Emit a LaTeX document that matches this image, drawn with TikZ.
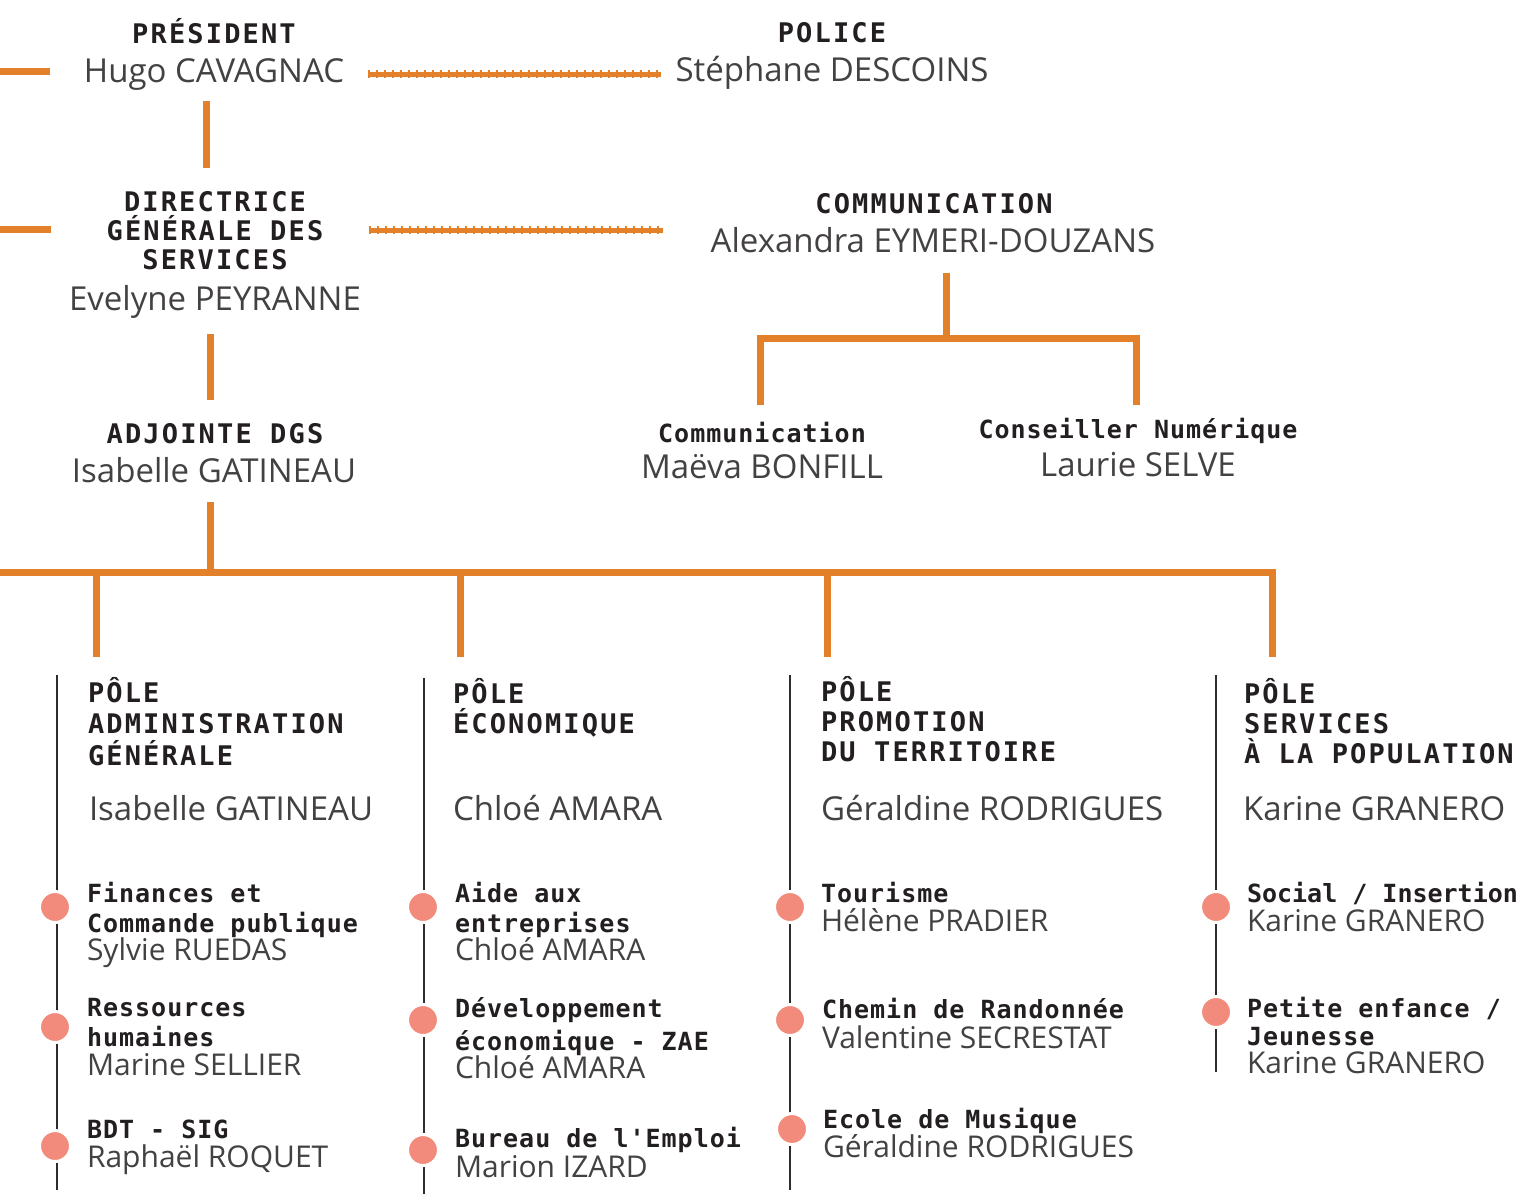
\documentclass[tikz,border=0pt]{standalone}
\usepackage{fontspec}
\setmainfont{Open Sans}
\newfontfamily\headfont[LetterSpace=8]{DejaVu Sans Mono}
\newfontfamily\subfont[LetterSpace=4]{DejaVu Sans Mono}
\newfontfamily\subtightfont[LetterSpace=0]{DejaVu Sans Mono}
\usetikzlibrary{calc}

\definecolor{barColor}{RGB}{227,129,43}
\definecolor{dotColor}{RGB}{242,139,123}
\definecolor{textColor}{RGB}{35,31,32}
\definecolor{ruleColor}{RGB}{45,45,45}

\tikzset{
  headtext/.style={text=textColor,inner sep=0pt,outer sep=0pt,font=\headfont\bfseries\fontsize{27}{30}\selectfont},
  person/.style={text=textColor!85,inner sep=0pt,outer sep=0pt,font=\fontsize{33}{34}\selectfont},
  subhead/.style={text=textColor,inner sep=0pt,outer sep=0pt,align=left,font=\subfont\bfseries\fontsize{25}{30}\selectfont},
  subperson/.style={text=textColor!85,inner sep=0pt,outer sep=0pt,font=\fontsize{30}{30}\selectfont},
  bar/.style={draw=barColor,line width=7pt},
  dotlink/.style={draw=barColor,line width=5pt,postaction={draw=barColor,line width=8.5pt,dash pattern=on 1.5pt off 6.5pt}},
  rule/.style={draw=ruleColor,line width=2.5pt},
  bullet/.style={circle,fill=dotColor,draw=white,line width=3pt,minimum size=31pt,inner sep=0pt}
}

\begin{document}
\begin{tikzpicture}[x=1pt,y=-1pt]
\path[use as bounding box,fill=white] (0,0) rectangle (1525,1194);

% top of the chart
\node[headtext,anchor=base] (pres) at (214,43) {PRÉSIDENT};
\node[person,anchor=base] (presN) at (214,82) {Hugo CAVAGNAC};
\node[headtext,anchor=base] (police) at (832,42) {POLICE};
\node[person,anchor=base] (policeN) at (832,81) {Stéphane DESCOINS};

\node[headtext,anchor=base,align=center,font=\headfont\bfseries\fontsize{27}{29}\selectfont] (dgs) at (215,269) {DIRECTRICE\\GÉNÉRALE DES\\SERVICES};
\node[person,anchor=base] (dgsN) at (215,310) {Evelyne PEYRANNE};
\node[headtext,anchor=base] (comm) at (934,213) {COMMUNICATION};
\node[person,anchor=base] (commN) at (933,252) {Alexandra EYMERI-DOUZANS};

\node[subhead,anchor=base] (com1) at (762,442) {Communication};
\node[person,anchor=base] (com1N) at (762,478) {Maëva BONFILL};
\node[subhead,anchor=base] (com2) at (1138,438) {Conseiller Numérique};
\node[person,anchor=base] (com2N) at (1138,476) {Laurie SELVE};

\node[headtext,anchor=base] (adj) at (215,443) {ADJOINTE DGS};
\node[person,anchor=base] (adjN) at (214,482) {Isabelle GATINEAU};

% links at the top
\coordinate (edge1) at (0,71);
\coordinate (edge2) at (0,229);
\draw[bar] (edge1) -- ++(50,0);
\draw[bar] (edge2) -- ++(51,0);
\draw[dotlink,shorten <=24pt,shorten >=15pt] (presN.east) -- (presN.east -| policeN.west);
\draw[dotlink,shorten <=46pt,shorten >=48pt] (dgs.east) -- (dgs.east -| commN.west);

\coordinate (presS) at (206,101);
\coordinate (dgsT) at (206,168);
\draw[bar] (presS) -- (dgsT);
\coordinate (dgsS) at (210,334);
\coordinate (adjT) at (210,400);
\draw[bar] (dgsS) -- (adjT);

\coordinate (commS) at (946,273);
\coordinate (commBar) at (946,338);
\coordinate (com1T) at (760,405);
\coordinate (com2T) at (1136,405);
\draw[bar] (commS) -- (commBar);
\draw[bar] (com1T) |- (commBar) -| (com2T);

% the four poles
\coordinate (adjS) at (210,502);
\coordinate (busW) at (0,572);
\coordinate (top1) at (96,657);
\coordinate (top2) at (460,657);
\coordinate (top3) at (827,657);
\coordinate (top4) at (1272,657);
\draw[bar] (adjS) -- (adjS |- busW);
\draw[bar] (busW) -| (top4);
\draw[bar] (top1 |- busW) -- (top1);
\draw[bar] (top2 |- busW) -- (top2);
\draw[bar] (top3 |- busW) -- (top3);

\draw[rule] (57,675) -- (57,1190);
\draw[rule] (424,678) -- (424,1194);
\draw[rule] (790,675) -- (790,1190);
\draw[rule] (1216,675) -- (1216,1072);

\node[headtext,anchor=base west,align=left,font=\headfont\bfseries\fontsize{27}{31.5}\selectfont] (pole1) at (88,765) {PÔLE\\ADMINISTRATION\\GÉNÉRALE};
\node[person,anchor=base west] (pole1N) at (89,820) {Isabelle GATINEAU};
\node[headtext,anchor=base west,align=left] (pole2) at (453,733) {PÔLE\\ÉCONOMIQUE};
\node[person,anchor=base west] (pole2N) at (453,820) {Chloé AMARA};
\node[headtext,anchor=base west,align=left] (pole3) at (821,761) {PÔLE\\PROMOTION\\DU TERRITOIRE};
\node[person,anchor=base west] (pole3N) at (821,820) {Géraldine RODRIGUES};
\node[headtext,anchor=base west,align=left] (pole4) at (1244,763) {PÔLE\\SERVICES\\À LA POPULATION};
\node[person,anchor=base west] (pole4N) at (1243,820) {Karine GRANERO};

% services of each pole
\node[bullet] (b11) at (55,907) {};
\node[subhead,anchor=base west] (s11) at (87,932) {Finances et\\Commande publique};
\node[subperson,anchor=base west] (s11N) at (87,960) {Sylvie RUEDAS};
\node[bullet] (b12) at (55,1027) {};
\node[subhead,anchor=base west] (s12) at (87,1046) {Ressources\\humaines};
\node[subperson,anchor=base west] (s12N) at (87,1075) {Marine SELLIER};
\node[bullet] (b13) at (55,1146) {};
\node[subhead,anchor=base west] (s13) at (87,1138) {BDT - SIG};
\node[subperson,anchor=base west] (s13N) at (87,1167) {Raphaël ROQUET};

\node[bullet] (b21) at (423,907) {};
\node[subhead,anchor=base west] (s21) at (455,932) {Aide aux\\entreprises};
\node[subperson,anchor=base west] (s21N) at (455,960) {Chloé AMARA};
\node[bullet] (b22) at (423,1020) {};
\node[subhead,anchor=base west] (s22) at (455,1050) {Développement\\[3pt]économique - ZAE};
\node[subperson,anchor=base west] (s22N) at (455,1078) {Chloé AMARA};
\node[bullet] (b23) at (423,1150) {};
\node[subhead,anchor=base west] (s23) at (455,1147) {Bureau de l'Emploi};
\node[subperson,anchor=base west] (s23N) at (455,1177) {Marion IZARD};

\node[bullet] (b31) at (790,907) {};
\node[subhead,anchor=base west] (s31) at (821,902) {Tourisme};
\node[subperson,anchor=base west] (s31N) at (821,931) {Hélène PRADIER};
\node[bullet] (b32) at (790,1020) {};
\node[subhead,anchor=base west] (s32) at (822,1018) {Chemin de Randonnée};
\node[subperson,anchor=base west] (s32N) at (822,1048) {Valentine SECRESTAT};
\node[bullet] (b33) at (792,1129) {};
\node[subhead,anchor=base west] (s33) at (823,1128) {Ecole de Musique};
\node[subperson,anchor=base west] (s33N) at (823,1157) {Géraldine RODRIGUES};

\node[bullet] (b41) at (1216,907) {};
\node[subhead,anchor=base west,font=\subtightfont\bfseries\fontsize{25}{30}\selectfont] (s41) at (1247,902) {Social / Insertion};
\node[subperson,anchor=base west] (s41N) at (1247,931) {Karine GRANERO};
\node[bullet] (b42) at (1216,1012) {};
\node[subhead,anchor=base west,font=\subfont\bfseries\fontsize{25}{28}\selectfont] (s42) at (1247,1045) {Petite enfance /\\Jeunesse};
\node[subperson,anchor=base west] (s42N) at (1247,1073) {Karine GRANERO};
\end{tikzpicture}
\end{document}
